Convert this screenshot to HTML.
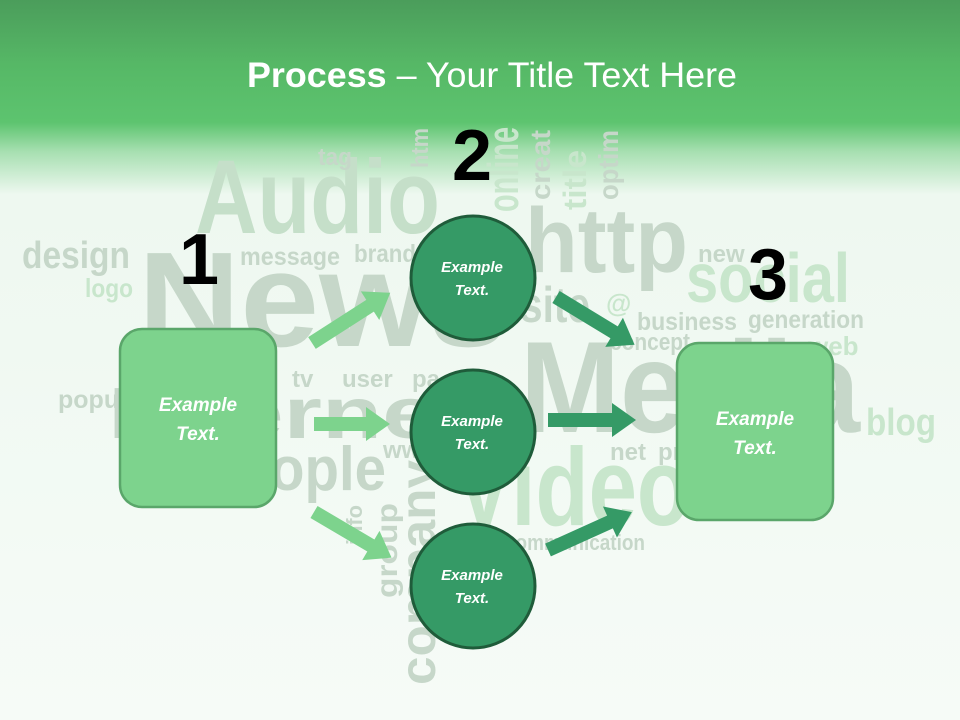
<!DOCTYPE html>
<html><head><meta charset="utf-8"><style>
html,body{margin:0;padding:0;width:960px;height:720px;overflow:hidden;background:#f4faf5}
svg{display:block}
</style></head><body>
<svg width="960" height="720" viewBox="0 0 960 720" xmlns="http://www.w3.org/2000/svg">
<defs>
<linearGradient id="bg" x1="0" y1="0" x2="0" y2="1">
<stop offset="0" stop-color="#4b9d5b"/>
<stop offset="0.09" stop-color="#56b866"/>
<stop offset="0.17" stop-color="#5dc46f"/>
<stop offset="0.21" stop-color="#a6dfb0"/>
<stop offset="0.27" stop-color="#eef8f0"/>
<stop offset="1" stop-color="#f6fbf7"/>
</linearGradient>
</defs>
<rect width="960" height="720" fill="url(#bg)"/>
<g font-family="Liberation Sans, Arial, sans-serif" font-weight="bold">
<text x="195" y="233" font-size="105" textLength="245" lengthAdjust="spacingAndGlyphs" fill="#c5dfc9">Audio</text>
<text x="138" y="346" font-size="135" textLength="370" lengthAdjust="spacingAndGlyphs" fill="#c6d7c9">News</text>
<text x="22" y="268" font-size="38" textLength="108" lengthAdjust="spacingAndGlyphs" fill="#c6d7c9">design</text>
<text x="85" y="297" font-size="26" textLength="48" lengthAdjust="spacingAndGlyphs" fill="#c8e6cc">logo</text>
<text x="240" y="265" font-size="25" textLength="100" lengthAdjust="spacingAndGlyphs" fill="#c6d7c9">message</text>
<text x="354" y="262" font-size="25" textLength="62" lengthAdjust="spacingAndGlyphs" fill="#c6d7c9">brand</text>
<text x="318" y="165" font-size="24" textLength="34" lengthAdjust="spacingAndGlyphs" fill="#c6d7c9">tag</text>
<text x="525" y="272" font-size="92" textLength="163" lengthAdjust="spacingAndGlyphs" fill="#c6d7c9">http</text>
<text transform="translate(428,168) rotate(-90)" font-size="24" textLength="40" lengthAdjust="spacingAndGlyphs" fill="#c6d7c9">htm</text>
<text transform="translate(518,212) rotate(-90)" font-size="44" textLength="85" lengthAdjust="spacingAndGlyphs" fill="#c8e6cc">online</text>
<text transform="translate(550,200) rotate(-90)" font-size="28" textLength="70" lengthAdjust="spacingAndGlyphs" fill="#c6d7c9">creat</text>
<text transform="translate(586,210) rotate(-90)" font-size="32" textLength="60" lengthAdjust="spacingAndGlyphs" fill="#c8e6cc">title</text>
<text transform="translate(618,200) rotate(-90)" font-size="28" textLength="70" lengthAdjust="spacingAndGlyphs" fill="#c6d7c9">optim</text>
<text x="698" y="262" font-size="24" fill="#c6d7c9">new</text>
<text x="686" y="302" font-size="70" textLength="164" lengthAdjust="spacingAndGlyphs" fill="#c8e6cc">social</text>
<text x="520" y="322" font-size="50" textLength="70" lengthAdjust="spacingAndGlyphs" fill="#c6d7c9">site</text>
<text x="606" y="312" font-size="26" fill="#c8e6cc">@</text>
<text x="637" y="330" font-size="25" textLength="100" lengthAdjust="spacingAndGlyphs" fill="#c6d7c9">business</text>
<text x="748" y="328" font-size="25" textLength="116" lengthAdjust="spacingAndGlyphs" fill="#c6d7c9">generation</text>
<text x="610" y="350" font-size="24" textLength="80" lengthAdjust="spacingAndGlyphs" fill="#c6d7c9">concept</text>
<text x="808" y="355" font-size="26" fill="#c8e6cc">web</text>
<text x="520" y="432" font-size="130" textLength="340" lengthAdjust="spacingAndGlyphs" fill="#c6d7c9">Media</text>
<text x="866" y="435" font-size="38" textLength="70" lengthAdjust="spacingAndGlyphs" fill="#c8e6cc">blog</text>
<text x="58" y="408" font-size="25" fill="#c6d7c9">popul</text>
<text x="292" y="387" font-size="24" fill="#c6d7c9">tv</text>
<text x="342" y="387" font-size="24" fill="#c6d7c9">user</text>
<text x="412" y="387" font-size="24" fill="#c6d7c9">pa</text>
<text x="108" y="438" font-size="72" textLength="362" lengthAdjust="spacingAndGlyphs" fill="#c6d7c9">Internet</text>
<text x="270" y="490" font-size="62" textLength="116" lengthAdjust="spacingAndGlyphs" fill="#c6d7c9">ople</text>
<text x="383" y="458" font-size="24" fill="#c6d7c9">ww</text>
<text x="610" y="460" font-size="24" fill="#c6d7c9">net</text>
<text x="658" y="460" font-size="24" fill="#c6d7c9">pr</text>
<text x="455" y="525" font-size="110" textLength="235" lengthAdjust="spacingAndGlyphs" fill="#c8e6cc">Video</text>
<text x="505" y="550" font-size="22" textLength="140" lengthAdjust="spacingAndGlyphs" fill="#c6d7c9">communication</text>
<text transform="translate(435,685) rotate(-90)" font-size="50" textLength="225" lengthAdjust="spacingAndGlyphs" fill="#c6d7c9">company</text>
<text transform="translate(397,598) rotate(-90)" font-size="30" textLength="95" lengthAdjust="spacingAndGlyphs" fill="#c6d7c9">group</text>
<text transform="translate(362,545) rotate(-90)" font-size="22" textLength="40" lengthAdjust="spacingAndGlyphs" fill="#c6d7c9">info</text>
</g>
<text x="492" y="87" text-anchor="middle" font-family="Liberation Sans, Arial, sans-serif" font-size="35" textLength="490" lengthAdjust="spacingAndGlyphs" fill="#ffffff"><tspan font-weight="bold">Process</tspan> – Your Title Text Here</text>
<g fill="#7dd38d">
<g transform="translate(312,343) rotate(-32.7)"><polygon points="0,-7 69,-7 69,-17 93,0 69,17 69,7 0,7"/></g>
<g transform="translate(314,424)"><polygon points="0,-7 52,-7 52,-17 76,0 52,17 52,7 0,7"/></g>
<g transform="translate(314,512) rotate(30.5)"><polygon points="0,-7 66,-7 66,-17 90,0 66,17 66,7 0,7"/></g>
</g>
<g fill="#359a66">
<g transform="translate(556,297) rotate(31.3)"><polygon points="0,-7 68,-7 68,-17 92,0 68,17 68,7 0,7"/></g>
<g transform="translate(548,420)"><polygon points="0,-7 64,-7 64,-17 88,0 64,17 64,7 0,7"/></g>
<g transform="translate(548,550) rotate(-24.3)"><polygon points="0,-7 68,-7 68,-17 92,0 68,17 68,7 0,7"/></g>
</g>
<rect x="120" y="329" width="156" height="178" rx="22" fill="#7dd38d" stroke="#5aa66a" stroke-width="2.5"/>
<rect x="677" y="343" width="156" height="177" rx="22" fill="#7dd38d" stroke="#5aa66a" stroke-width="2.5"/>
<g fill="#359a66" stroke="#1f5c3a" stroke-width="3">
<circle cx="473" cy="278" r="62"/>
<circle cx="473" cy="432" r="62"/>
<circle cx="473" cy="586" r="62"/>
</g>
<g font-family="Liberation Sans, Arial, sans-serif" font-weight="bold" font-style="italic" fill="#ffffff" text-anchor="middle">
<text x="198" y="411" font-size="19">Example</text>
<text x="198" y="440" font-size="19">Text.</text>
<text x="755" y="425" font-size="19">Example</text>
<text x="755" y="454" font-size="19">Text.</text>
<text x="472" y="272" font-size="15">Example</text>
<text x="472" y="295" font-size="15">Text.</text>
<text x="472" y="426" font-size="15">Example</text>
<text x="472" y="449" font-size="15">Text.</text>
<text x="472" y="580" font-size="15">Example</text>
<text x="472" y="603" font-size="15">Text.</text>
</g>
<g font-family="Liberation Sans, Arial, sans-serif" font-weight="bold" fill="#000" text-anchor="middle" font-size="72">
<text x="199" y="284">1</text>
<text x="472" y="180">2</text>
<text x="768" y="299">3</text>
</g>
</svg>
</body></html>
